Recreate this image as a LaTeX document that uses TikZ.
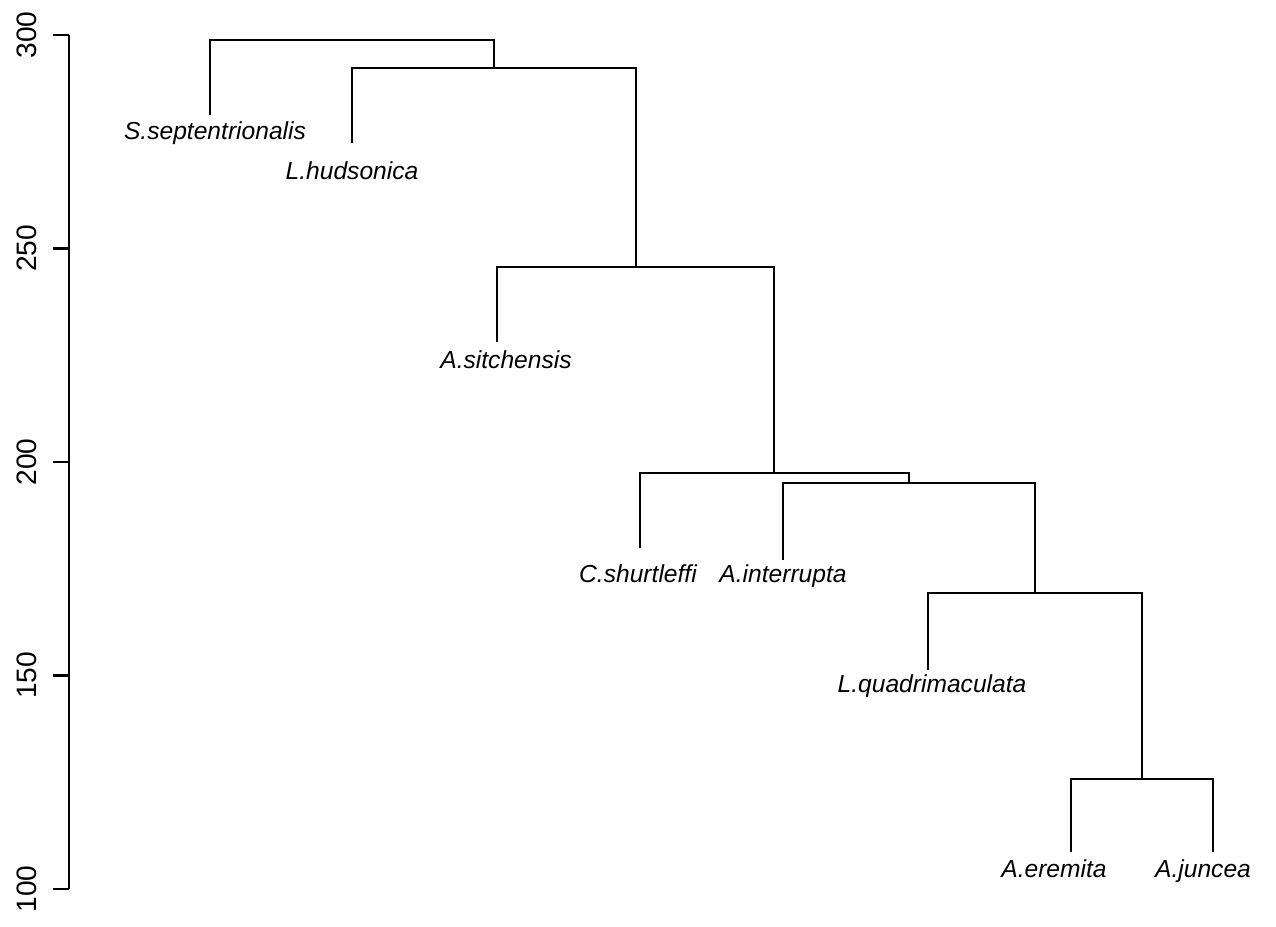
\documentclass[tikz,border=0pt]{standalone}
\usepackage{fontspec}
\setmainfont{Liberation Sans}

\begin{document}
\begin{tikzpicture}[line width=0.6pt,
    taxon/.style={font=\fontsize{7}{8}\selectfont\itshape, anchor=base, inner sep=0pt},
    ticklabel/.style={font=\fontsize{8}{9}\selectfont, rotate=90, inner sep=0pt}]
    \useasboundingbox (0,0) rectangle (12.76,9.26);
    % height axis
    \coordinate (ytop) at (0.69,8.91);
    \coordinate (ybot) at (0.69,0.37);
    \draw (ytop) -- (ybot);
    \foreach \v/\y in {300/8.91,250/6.775,200/4.64,150/2.505,100/0.37} {
        \draw (0.69,\y) -- (0.53,\y);
        \node[ticklabel] (tick\v) at (0.27,\y) {\v};
    }
    % leaf tips
    \coordinate (sse) at (2.10,8.11);
    \coordinate (lhu) at (3.52,7.83);
    \coordinate (asi) at (4.97,5.84);
    \coordinate (csh) at (6.40,3.78);
    \coordinate (ain) at (7.83,3.66);
    \coordinate (lqu) at (9.28,2.56);
    \coordinate (aer) at (10.71,0.74);
    \coordinate (aju) at (12.13,0.74);
    % merges
    \coordinate (m7) at (11.42,1.47);
    \coordinate (m6) at (10.35,3.33);
    \coordinate (m5) at (9.09,4.43);
    \coordinate (m4) at (7.74,4.53);
    \coordinate (m3) at (6.36,6.59);
    \coordinate (m2) at (4.94,8.58);
    \coordinate (m1) at (3.52,8.86);
    \draw (aer) |- (m7) -| (aju);
    \draw (lqu) |- (m6) -| (m7);
    \draw (ain) |- (m5) -| (m6);
    \draw (csh) |- (m4) -| (m5);
    \draw (asi) |- (m3) -| (m4);
    \draw (lhu) |- (m2) -| (m3);
    \draw (sse) |- (m1) -| (m2);
    % labels
    \node[taxon] (Lsse) at (2.15,7.86) {S.septentrionalis};
    \node[taxon] (Llhu) at (3.52,7.46) {L.hudsonica};
    \node[taxon] (Lasi) at (5.06,5.58) {A.sitchensis};
    \node[taxon] (Lcsh) at (6.38,3.44) {C.shurtleffi};
    \node[taxon] (Lain) at (7.83,3.44) {A.interrupta};
    \node[taxon] (Llqu) at (9.32,2.34) {L.quadrimaculata};
    \node[taxon] (Laer) at (10.54,0.49) {A.eremita};
    \node[taxon] (Laju) at (12.03,0.49) {A.juncea};
\end{tikzpicture}
\end{document}
